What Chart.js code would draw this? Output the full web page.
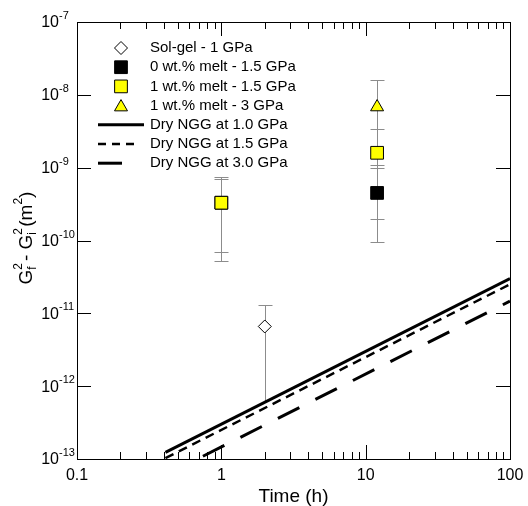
<!DOCTYPE html>
<html lang="en">
<head>
<meta charset="UTF-8" />
<title>Grain growth - G2 vs time</title>
<script src="https://cdn.jsdelivr.net/npm/chart.js"></script>
<style>
  body { margin: 0; background: #fff; }
  #wrap { width: 528px; height: 506px; position: relative; }
</style>
</head>
<body>
<div id="wrap"><canvas id="chart"></canvas></div>
<script>
// measured points (time in h, Gf^2 - Gi^2 in m^2) with error bar ends
const solGelTime = [2];
const solGelG2 = [6.6e-12];
const solGelLow = [6.0e-13];
const solGelHigh = [1.3e-11];

const melt0Time = [1, 12];
const melt0G2 = [3.3e-10, 4.5e-10];
const melt0Low = [5.2e-11, 2.0e-10];
const melt0High = [7.0e-10, 1.0e-9];

const melt1Time = [1, 12];
const melt1G2 = [3.3e-10, 1.6e-9];
const melt1Low = [6.9e-11, 9.5e-11];
const melt1High = [7.5e-10, 3.4e-9];

const melt1hpTime = [12];
const melt1hpG2 = [6.8e-9];
const melt1hpLow = [1.1e-9];
const melt1hpHigh = [1.58e-8];

// dry NGG model lines (end points)
const dryTime = [0.41, 100];
const dry10 = [1.23e-13, 3.0e-11];
const dry15 = [1.03e-13, 2.5e-11];
const dry30 = [6.0e-14, 1.47e-11];

// axis ticks
const xTickValues = [0.1, 1, 10, 100];
const xTickLabels = ['0.1', '1', '10', '100'];
const yTickExps = [-7, -8, -9, -10, -11, -12, -13];

const FONT = '"Liberation Sans", Arial, sans-serif';
const ERR_COLOR = '#8c8c8c';

const pts = (xs, ys) => xs.map((t, i) => ({ x: t, y: ys[i] }));

const legendItems = [
  { kind: 'point', style: 'rectRot', r: 6.5, fill: '#fff', label: 'Sol-gel - 1 GPa' },
  { kind: 'point', style: 'rect', r: 9, fill: '#000', label: '0 wt.% melt - 1.5 GPa' },
  { kind: 'point', style: 'rect', r: 9, fill: '#ffff00', label: '1 wt.% melt - 1.5 GPa' },
  { kind: 'point', style: 'triangle', r: 7.5, fill: '#ffff00', label: '1 wt.% melt - 3 GPa' },
  { kind: 'line', dash: [], width: 3, end: 144, label: 'Dry NGG at 1.0 GPa' },
  { kind: 'line', dash: [8, 6], width: 2.5, end: 136, label: 'Dry NGG at 1.5 GPa' },
  { kind: 'line', dash: [], width: 3, end: 122, label: 'Dry NGG at 3.0 GPa' }
];

const errorBars = {
  id: 'errorBars',
  beforeDatasetsDraw(chart) {
    const { ctx, scales: { x, y } } = chart;
    ctx.save();
    ctx.strokeStyle = ERR_COLOR;
    ctx.lineWidth = 1;
    chart.data.datasets.forEach(ds => {
      if (!ds.errLow) return;
      ds.data.forEach((p, i) => {
        const px = Math.round(x.getPixelForValue(p.x)) + 0.5;
        const yl = Math.round(y.getPixelForValue(ds.errLow[i])) + 0.5;
        const yh = Math.round(y.getPixelForValue(ds.errHigh[i])) + 0.5;
        ctx.beginPath();
        ctx.moveTo(px, yl); ctx.lineTo(px, yh);
        ctx.moveTo(px - 7, yh); ctx.lineTo(px + 7, yh);
        if (ds.errCapLow !== false) { ctx.moveTo(px - 7, yl); ctx.lineTo(px + 7, yl); }
        ctx.stroke();
      });
    });
    ctx.restore();
  }
};

function drawMarker(ctx, style, r, fill, cx, cy) {
  ctx.beginPath();
  if (style === 'rect') {
    const s = r * Math.SQRT1_2;
    ctx.rect(cx - s, cy - s, 2 * s, 2 * s);
  } else if (style === 'rectRot') {
    ctx.moveTo(cx, cy - r); ctx.lineTo(cx + r, cy); ctx.lineTo(cx, cy + r); ctx.lineTo(cx - r, cy);
    ctx.closePath();
  } else {
    ctx.moveTo(cx, cy - r);
    ctx.lineTo(cx + r * Math.sqrt(3) / 2, cy + r / 2);
    ctx.lineTo(cx - r * Math.sqrt(3) / 2, cy + r / 2);
    ctx.closePath();
  }
  ctx.fillStyle = fill; ctx.fill();
  ctx.strokeStyle = '#000'; ctx.lineWidth = 1; ctx.stroke();
}

function drawParts(ctx, parts, x, y) {
  // parts: [text, size, dy, advance]; draws left to right
  parts.forEach(([t, size, dy, advance]) => {
    ctx.font = size + 'px ' + FONT;
    ctx.fillText(t, x, y + dy);
    if (advance !== false) x += ctx.measureText(t).width;
  });
  return x;
}

const frameAndText = {
  id: 'frameAndText',
  afterDraw(chart) {
    const { ctx, chartArea: a, scales: { x, y } } = chart;
    ctx.save();
    ctx.strokeStyle = '#000';
    ctx.lineWidth = 1;
    ctx.strokeRect(a.left + 0.5, a.top + 0.5, a.right - a.left, a.bottom - a.top);

    // inward ticks, log decades with minor 2..9
    ctx.beginPath();
    for (let d = 0; d < xTickValues.length; d++) {
      const v = xTickValues[d];
      const px = Math.round(x.getPixelForValue(v)) + 0.5;
      ctx.moveTo(px, a.bottom); ctx.lineTo(px, a.bottom - 14);
      ctx.moveTo(px, a.top); ctx.lineTo(px, a.top + 14);
      if (d < xTickValues.length - 1) {
        for (let m = 2; m <= 9; m++) {
          const mx = Math.round(x.getPixelForValue(v * m)) + 0.5;
          ctx.moveTo(mx, a.bottom); ctx.lineTo(mx, a.bottom - 7);
          ctx.moveTo(mx, a.top); ctx.lineTo(mx, a.top + 7);
        }
      }
    }
    yTickExps.forEach(e => {
      const v = Math.pow(10, e);
      const py = Math.round(y.getPixelForValue(v)) + 0.5;
      ctx.moveTo(a.left, py); ctx.lineTo(a.left + 14, py);
      ctx.moveTo(a.right, py); ctx.lineTo(a.right - 14, py);
      if (e > -7) {
        for (let m = 2; m <= 9; m++) {
          const my = Math.round(y.getPixelForValue(v * m)) + 0.5;
          ctx.moveTo(a.left, my); ctx.lineTo(a.left + 7, my);
          ctx.moveTo(a.right, my); ctx.lineTo(a.right - 7, my);
        }
      }
    });
    ctx.stroke();

    ctx.fillStyle = '#000';
    ctx.textBaseline = 'middle';

    // x tick labels
    ctx.textAlign = 'center';
    ctx.font = '16px ' + FONT;
    xTickValues.forEach((v, i) => {
      ctx.fillText(xTickLabels[i], x.getPixelForValue(v), a.bottom + 17);
    });

    // y tick labels 10^e
    yTickExps.forEach(e => {
      const py = y.getPixelForValue(Math.pow(10, e));
      ctx.textAlign = 'right';
      ctx.font = '16px ' + FONT;
      ctx.fillText('10', 59, py + 1);
      ctx.textAlign = 'left';
      ctx.font = '11px ' + FONT;
      ctx.fillText(String(e), 59, py - 6);
    });

    // axis titles
    ctx.textAlign = 'center';
    ctx.font = '19px ' + FONT;
    ctx.fillText('Time (h)', (a.left + a.right) / 2, 497);

    ctx.save();
    ctx.translate(27, 238);
    ctx.rotate(-Math.PI / 2);
    ctx.textAlign = 'left';
    const title = [
      ['G', 19, 0], ['2', 12, -8, false], ['f', 12, 6], [' - ', 19, 0],
      ['G', 19, 0], ['2', 12, -8, false], ['i', 12, 6], [' (m', 19, 0], ['2', 12, -8], [')', 19, 0]
    ];
    let w = 0;
    title.forEach(([t, s, dy, adv]) => { ctx.font = s + 'px ' + FONT; if (adv !== false) w += ctx.measureText(t).width; });
    drawParts(ctx, title, -w / 2, 0);
    ctx.restore();

    // legend
    const ly0 = 48, lstep = 19.2;
    legendItems.forEach((it, i) => {
      const ly = ly0 + i * lstep;
      if (it.kind === 'point') {
        drawMarker(ctx, it.style, it.r, it.fill, 121, it.style === 'triangle' ? ly + 1.5 : ly);
      } else {
        ctx.beginPath();
        ctx.setLineDash(it.dash);
        ctx.lineWidth = it.width;
        ctx.strokeStyle = '#000';
        ctx.moveTo(98, ly); ctx.lineTo(it.end, ly);
        ctx.stroke();
        ctx.setLineDash([]);
      }
      ctx.fillStyle = '#000';
      ctx.textAlign = 'left';
      ctx.font = '15px ' + FONT;
      ctx.fillText(it.label, 150, ly);
    });
    ctx.restore();
  }
};

new Chart(document.getElementById('chart'), {
  type: 'scatter',
  data: {
    datasets: [
      { data: pts(dryTime, dry10), showLine: true, borderColor: '#000', borderWidth: 3, pointRadius: 0, order: 1 },
      { data: pts(dryTime, dry15), showLine: true, borderColor: '#000', borderWidth: 2.5, borderDash: [9, 6], pointRadius: 0, order: 1 },
      { data: pts(dryTime, dry30), showLine: true, borderColor: '#000', borderWidth: 3, borderDash: [24, 18], pointRadius: 0, order: 1 },
      { data: pts(solGelTime, solGelG2), errLow: solGelLow, errHigh: solGelHigh, errCapLow: false,
        pointStyle: 'rectRot', pointRadius: 6.5, backgroundColor: '#fff', borderColor: '#000', borderWidth: 1, order: 2 },
      { data: pts(melt1hpTime, melt1hpG2), errLow: melt1hpLow, errHigh: melt1hpHigh,
        pointStyle: 'triangle', pointRadius: 7.5, backgroundColor: '#ffff00', borderColor: '#000', borderWidth: 1, order: 2 },
      { data: pts(melt1Time, melt1G2), errLow: melt1Low, errHigh: melt1High,
        pointStyle: 'rect', pointRadius: 9, backgroundColor: '#ffff00', borderColor: '#000', borderWidth: 1, order: 3 },
      { data: pts(melt0Time, melt0G2), errLow: melt0Low, errHigh: melt0High,
        pointStyle: 'rect', pointRadius: 9, backgroundColor: '#000', borderColor: '#000', borderWidth: 1, order: 4 }
    ]
  },
  options: {
    responsive: true,
    maintainAspectRatio: false,
    animation: false,
    layout: { padding: { left: 77, right: 18, top: 22, bottom: 47 } },
    scales: {
      x: { type: 'logarithmic', min: 0.1, max: 100, display: false },
      y: { type: 'logarithmic', min: 1e-13, max: 1e-7, display: false }
    },
    plugins: { legend: { display: false }, tooltip: { enabled: false } }
  },
  plugins: [errorBars, frameAndText]
});
</script>
</body>
</html>
